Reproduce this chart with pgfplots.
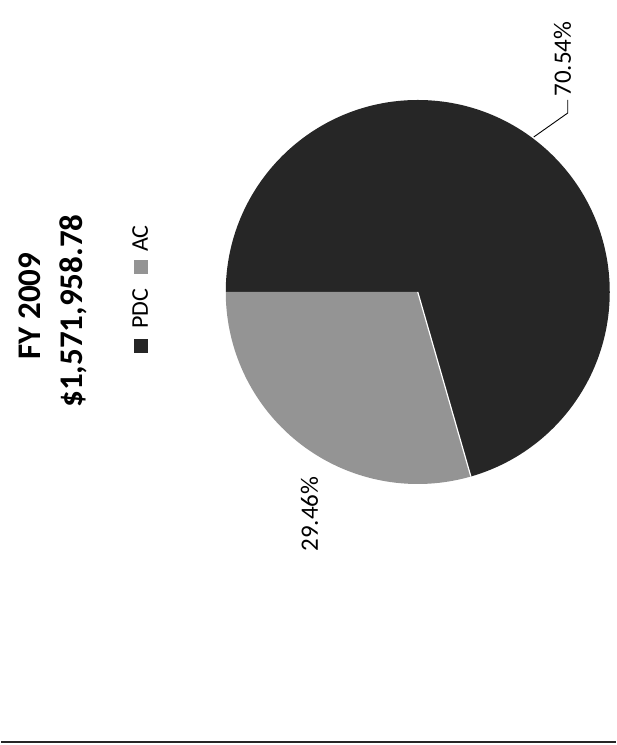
\documentclass[border=0pt]{standalone}
\usepackage{fontspec}
\setmainfont{Carlito}
\usepackage{pgfplots}
\usepackage{pgfplotstable}
\pgfplotsset{compat=1.18}
\definecolor{pdccolor}{HTML}{262626}
\definecolor{accolor}{HTML}{949494}
\pgfplotstableread{
label value
PDC 70.54
AC 29.46
}\piedata
\begin{document}
\begin{tikzpicture}
\pgfplotstablegetelem{0}{value}\of\piedata \let\vpdc\pgfplotsretval
\pgfplotstablegetelem{1}{value}\of\piedata \let\vac\pgfplotsretval
\pgfmathsetmacro{\startang}{180}
\pgfmathsetmacro{\midang}{180-3.6*\vpdc}
\pgfmathsetmacro{\endang}{\midang-3.6*\vac}
\pgfmathsetmacro{\cx}{417}
\pgfmathsetmacro{\cy}{453}
\pgfmathsetmacro{\rr}{192}
\begin{axis}[scale only axis, width=615bp, height=745bp,
  xmin=0, xmax=615, ymin=0, ymax=745, hide axis, clip=false]
\path (axis cs:0,0) rectangle (axis cs:615,745);
% PDC slice
\fill[pdccolor] (axis cs:\cx,\cy) -- (axis cs:{\cx+\rr*cos(\startang)},{\cy+\rr*sin(\startang)})
  arc[start angle=\startang, end angle=\midang, radius=\rr bp] -- cycle;
% AC slice
\fill[accolor] (axis cs:\cx,\cy) -- (axis cs:{\cx+\rr*cos(\midang)},{\cy+\rr*sin(\midang)})
  arc[start angle=\midang, end angle=\endang, radius=\rr bp] -- cycle;
\draw[white, line width=1.2bp] (axis cs:\cx,\cy) -- (axis cs:{\cx+\rr*cos(\midang)},{\cy+\rr*sin(\midang)});
% leader line
\draw[black, line width=0.9bp] (axis cs:533,608) -- (axis cs:567,632) -- (axis cs:567,645);
% labels
\node[rotate=90, anchor=base, inner sep=0pt, font=\fontsize{25bp}{30bp}\selectfont] at (axis cs:570,686) {70.54\%};
\node[rotate=90, anchor=base, inner sep=0pt, font=\fontsize{25bp}{30bp}\selectfont] at (axis cs:317,231) {29.46\%};
% title
\node[rotate=90, anchor=base, inner sep=0pt, font=\bfseries\fontsize{33bp}{40bp}\selectfont] at (axis cs:40,439) {FY 2009};
\node[rotate=90, anchor=base, inner sep=0pt, font=\bfseries\fontsize{33bp}{40bp}\selectfont] at (axis cs:82,434) {\$1,571,958.78};
% legend
\node[rotate=90, anchor=base, inner sep=0pt, font=\fontsize{24bp}{28bp}\selectfont] at (axis cs:147,456)
  {{\color{pdccolor}\rule{14bp}{14bp}}\hspace{10bp}PDC\hspace{15bp}{\color{accolor}\rule{14bp}{14bp}}\hspace{8bp}AC};
% bottom rule
\draw[black!85, line width=1.5bp] (axis cs:0,3) -- (axis cs:615,3);
\end{axis}
\end{tikzpicture}
\end{document}
